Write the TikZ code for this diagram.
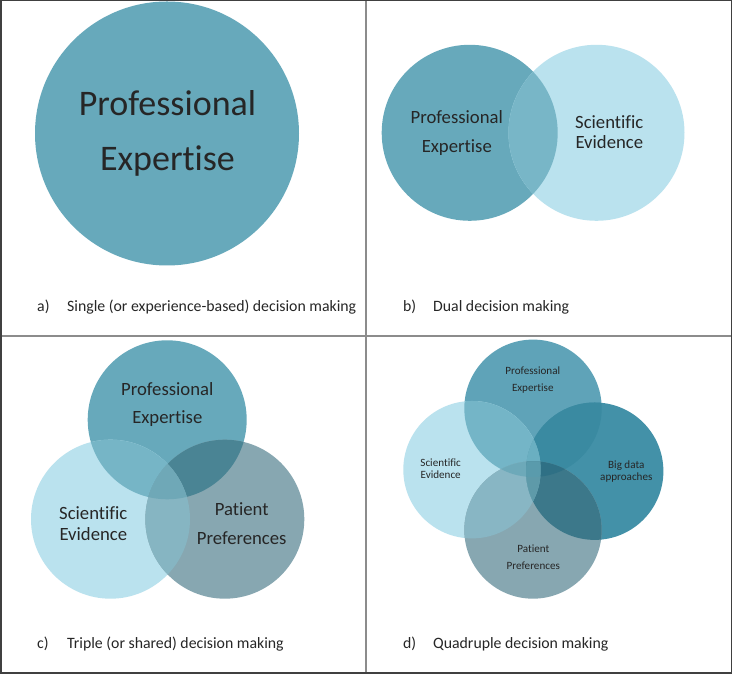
\documentclass[tikz,border=0pt]{standalone}
\usepackage{fontspec}
\setmainfont{Carlito}[Ligatures={NoCommon,NoContextual}]
\definecolor{teal}{HTML}{67A9BB}
\definecolor{light}{HTML}{BAE2EE}
\definecolor{grayc}{HTML}{87A7B1}
\definecolor{bOv}{HTML}{78B6C7}
\definecolor{cTL}{HTML}{76B5C6}
\definecolor{cTR}{HTML}{4A8494}
\definecolor{cLR}{HTML}{86B5C2}
\definecolor{cTLR}{HTML}{6FA8B7}
\definecolor{dT}{HTML}{5FA3B8}
\definecolor{dR}{HTML}{4391A8}
\definecolor{dTL}{HTML}{74B5C7}
\definecolor{dTR}{HTML}{3A8AA1}
\definecolor{dTB}{HTML}{6A9FAE}
\definecolor{dLB}{HTML}{88B6C4}
\definecolor{dRB}{HTML}{3C788A}
\definecolor{dLR}{HTML}{7CB4C4}
\definecolor{dTLR}{HTML}{6AAFC1}
\definecolor{dTLB}{HTML}{6DA9B9}
\definecolor{dTRB}{HTML}{2F7085}
\definecolor{dLRB}{HTML}{5E9AA9}
\definecolor{dTLRB}{HTML}{5A9BAC}
\definecolor{txt}{HTML}{262626}
\definecolor{frame}{HTML}{404040}
\definecolor{divider}{HTML}{8C8C8C}
\tikzset{
  biglbl/.style={font=\fontsize{36}{40}\selectfont, text=txt, anchor=base, inner sep=0pt},
  midlbl/.style={font=\fontsize{18.7}{21}\selectfont, text=txt, anchor=base, inner sep=0pt},
  smalllbl/.style={font=\fontsize{11.1}{13}\selectfont, text=txt, anchor=base, inner sep=0pt},
  caplbl/.style={font=\fontsize{15.8}{18}\selectfont, text=txt, anchor=base west, inner sep=0pt},
}
\def\bL{(469.7,541.2) circle (88pt)}
\def\bR{(596.5,541.2) circle (88pt)}
\def\cT{(167.2,254.2) circle (79.5pt)}
\def\cL{(110.5,154.8) circle (79.5pt)}
\def\cR{(224.8,154.8) circle (79.5pt)}
\def\dTc{(533,265.7) circle (68.7pt)}
\def\dLc{(472,204.3) circle (68.7pt)}
\def\dRc{(594.7,202.8) circle (68.7pt)}
\def\dBc{(533,144) circle (68.7pt)}
\begin{document}
\begin{tikzpicture}[x=1pt,y=1pt]
\useasboundingbox (0,0) rectangle (732,674);
\fill[white] (0,0) rectangle (732,674);
% ---- panel a
\fill[teal] (167,540.5) circle (132pt);
\node[biglbl] (aP) at (167.5,558) {Professional};
\node[biglbl] (aE) at (167.5,503) {Expertise};
\node[caplbl] (aLab) at (37,362) {a)};
\node[caplbl] (aCap) at (67,362) {Single (or experience-based) decision making};
% ---- panel b
\fill[teal] \bL;
\fill[light] \bR;
\begin{scope}\clip \bL; \fill[bOv] \bR; \end{scope}
\node[midlbl] (bP) at (456.8,550) {Professional};
\node[midlbl] (bE) at (456.8,521.3) {Expertise};
\node[midlbl] (bS) at (609.3,545.5) {Scientific};
\node[midlbl] (bEv) at (609.3,525.3) {Evidence};
\node[caplbl] (bLab) at (403,362) {b)};
\node[caplbl] (bCap) at (433,362) {Dual decision making};
% ---- panel c
\fill[teal] \cT;
\fill[light] \cL;
\fill[grayc] \cR;
\begin{scope}\clip \cT; \fill[cTL] \cL; \end{scope}
\begin{scope}\clip \cT; \fill[cTR] \cR; \end{scope}
\begin{scope}\clip \cL; \fill[cLR] \cR; \end{scope}
\begin{scope}\clip \cT; \clip \cL; \fill[cTLR] \cR; \end{scope}
\node[midlbl] (cP) at (167.3,278.7) {Professional};
\node[midlbl] (cE) at (167.3,250.3) {Expertise};
\node[midlbl] (cS) at (93.3,154.3) {Scientific};
\node[midlbl] (cEv) at (93.3,133.7) {Evidence};
\node[midlbl] (cPa) at (241.7,158.7) {Patient};
\node[midlbl] (cPr) at (241.7,129.7) {Preferences};
\node[caplbl] (cLab) at (37,25.3) {c)};
\node[caplbl] (cCap) at (67,25.3) {Triple (or shared) decision making};
% ---- panel d
\fill[dT] \dTc;
\fill[light] \dLc;
\fill[dR] \dRc;
\fill[grayc] \dBc;
\begin{scope}\clip \dTc; \fill[dTL] \dLc; \end{scope}
\begin{scope}\clip \dTc; \fill[dTR] \dRc; \end{scope}
\begin{scope}\clip \dTc; \fill[dTB] \dBc; \end{scope}
\begin{scope}\clip \dLc; \fill[dLB] \dBc; \end{scope}
\begin{scope}\clip \dRc; \fill[dRB] \dBc; \end{scope}
\begin{scope}\clip \dLc; \fill[dLR] \dRc; \end{scope}
\begin{scope}\clip \dTc; \clip \dLc; \fill[dTLR] \dRc; \end{scope}
\begin{scope}\clip \dTc; \clip \dLc; \fill[dTLB] \dBc; \end{scope}
\begin{scope}\clip \dTc; \clip \dRc; \fill[dTRB] \dBc; \end{scope}
\begin{scope}\clip \dLc; \clip \dRc; \fill[dLRB] \dBc; \end{scope}
\begin{scope}\clip \dTc; \clip \dLc; \clip \dRc; \fill[dTLRB] \dBc; \end{scope}
\node[smalllbl] (dP) at (532.8,299.7) {Professional};
\node[smalllbl] (dE) at (532.8,282.5) {Expertise};
\node[smalllbl] (dS) at (440.7,207) {Scientific};
\node[smalllbl] (dEv) at (440.7,195.3) {Evidence};
\node[smalllbl] (dB) at (626.3,205.7) {Big data};
\node[smalllbl] (dA) at (626.3,193.7) {approaches};
\node[smalllbl] (dPa) at (533.3,121) {Patient};
\node[smalllbl] (dPr) at (533.3,104.3) {Preferences};
\node[caplbl] (dLab) at (403,25) {d)};
\node[caplbl] (dCap) at (433,25) {Quadruple decision making};
% ---- frame and dividers
\draw[divider, line width=2pt] (366,0) -- (366,674);
\draw[divider, line width=2pt] (0,338) -- (732,338);
\draw[frame, line width=1.5pt] (0.75,0.75) rectangle (731.25,673.25);
\end{tikzpicture}
\end{document}
